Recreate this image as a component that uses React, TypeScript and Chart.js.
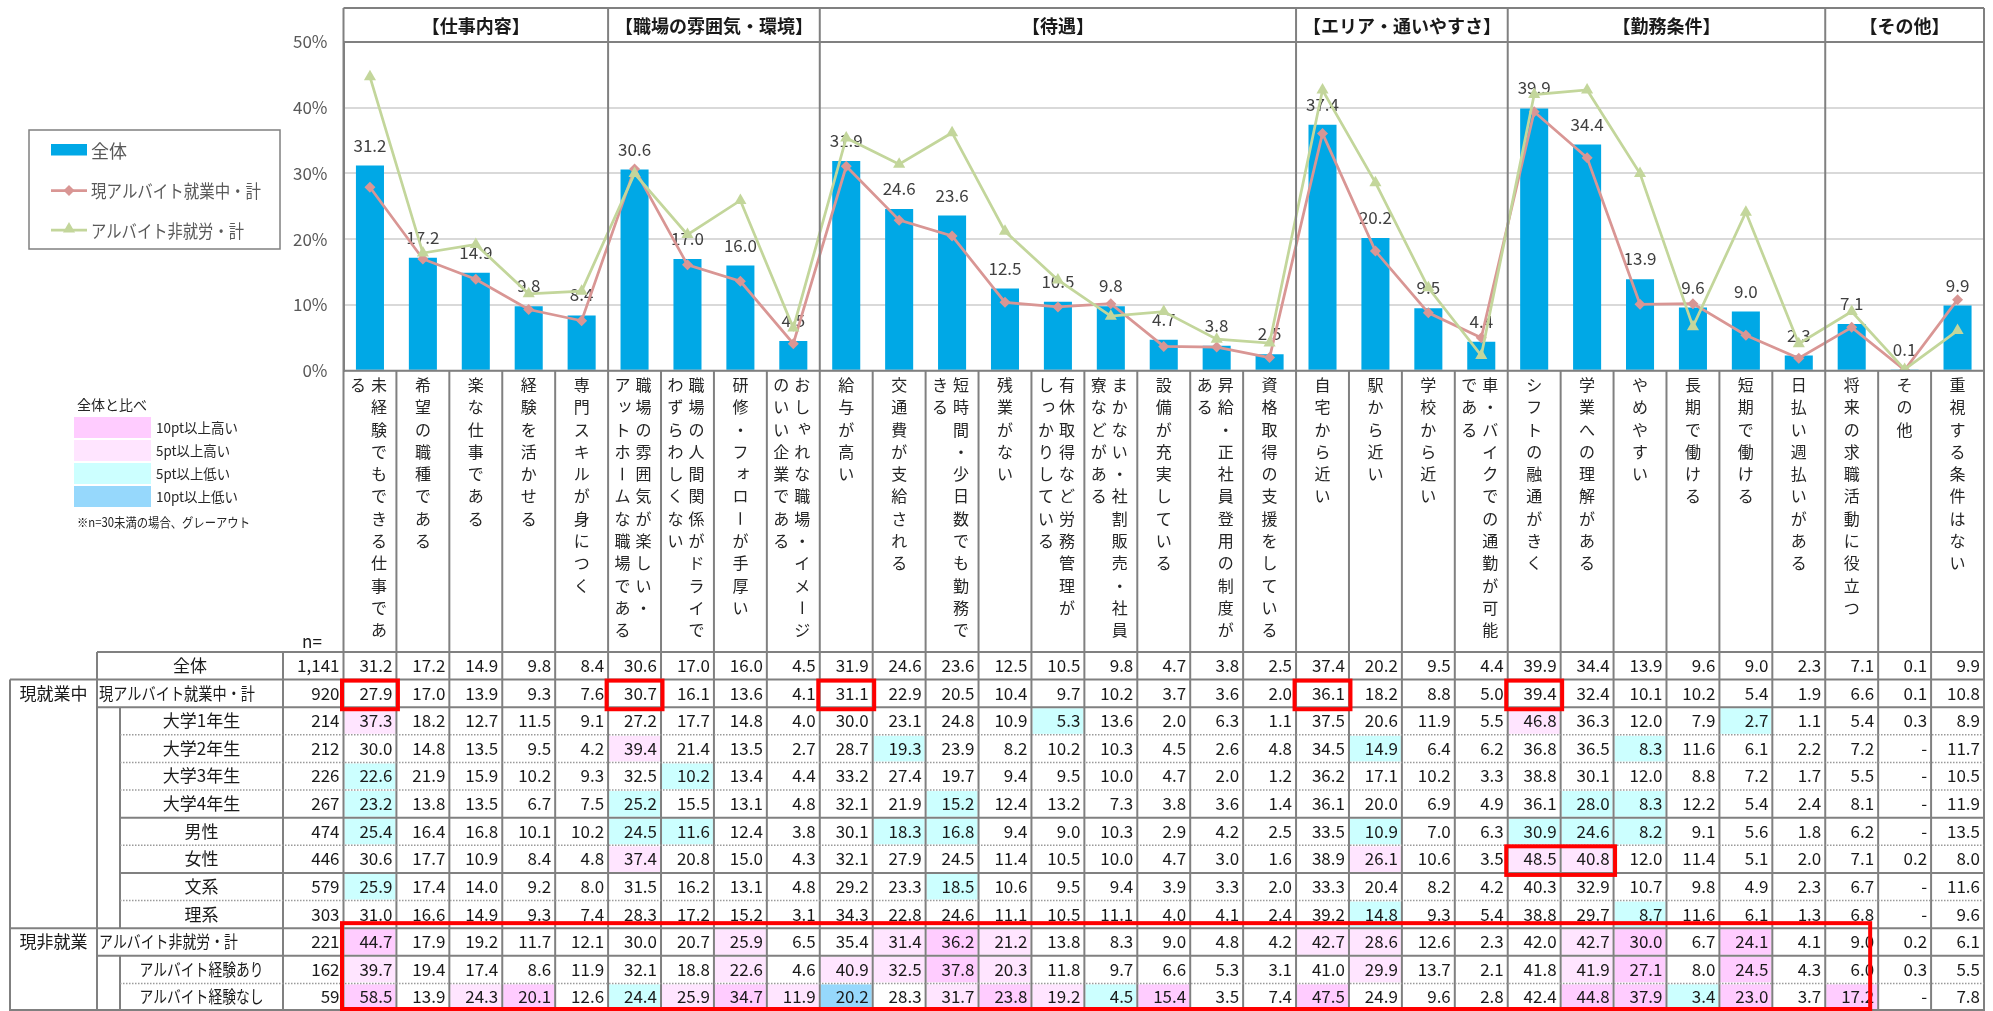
import React, { useEffect, useRef } from "react";
import { Chart, registerables } from "chart.js";
Chart.register(...registerables);

const FONT = '"Noto Sans CJK JP", "Noto Sans", sans-serif';

// ---- categories ----
const GROUPS = ["【仕事内容】", "【職場の雰囲気・環境】", "【待遇】", "【エリア・通いやすさ】", "【勤務条件】", "【その他】"];
const GROUP_SIZES = [5, 4, 9, 4, 6, 3];
// "|" separates vertical text columns (right column first)
const CATEGORIES = [
  "未経験でもできる仕事であ|る", "希望の職種である", "楽な仕事である", "経験を活かせる", "専門スキルが身につく",
  "職場の雰囲気が楽しい・|アットホームな職場である", "職場の人間関係がドライで|わずらわしくない", "研修・フォローが手厚い", "おしゃれな職場・イメージ|のいい企業である",
  "給与が高い", "交通費が支給される", "短時間・少日数でも勤務で|きる", "残業がない", "有休取得など労務管理が|しっかりしている",
  "まかない・社割販売・社員|寮などがある", "設備が充実している", "昇給・正社員登用の制度が|ある", "資格取得の支援をしている",
  "自宅から近い", "駅から近い", "学校から近い", "車・バイクでの通勤が可能|である",
  "シフトの融通がきく", "学業への理解がある", "やめやすい", "長期で働ける", "短期で働ける", "日払い週払いがある",
  "将来の求職活動に役立つ", "その他", "重視する条件はない",
];

// ---- rows (null = "-") ----
const ALL = [31.2, 17.2, 14.9, 9.8, 8.4, 30.6, 17.0, 16.0, 4.5, 31.9, 24.6, 23.6, 12.5, 10.5, 9.8, 4.7, 3.8, 2.5, 37.4, 20.2, 9.5, 4.4, 39.9, 34.4, 13.9, 9.6, 9.0, 2.3, 7.1, 0.1, 9.9];
const CUR_TOTAL = [27.9, 17.0, 13.9, 9.3, 7.6, 30.7, 16.1, 13.6, 4.1, 31.1, 22.9, 20.5, 10.4, 9.7, 10.2, 3.7, 3.6, 2.0, 36.1, 18.2, 8.8, 5.0, 39.4, 32.4, 10.1, 10.2, 5.4, 1.9, 6.6, 0.1, 10.8];
const UNIV1 = [37.3, 18.2, 12.7, 11.5, 9.1, 27.2, 17.7, 14.8, 4.0, 30.0, 23.1, 24.8, 10.9, 5.3, 13.6, 2.0, 6.3, 1.1, 37.5, 20.6, 11.9, 5.5, 46.8, 36.3, 12.0, 7.9, 2.7, 1.1, 5.4, 0.3, 8.9];
const UNIV2 = [30.0, 14.8, 13.5, 9.5, 4.2, 39.4, 21.4, 13.5, 2.7, 28.7, 19.3, 23.9, 8.2, 10.2, 10.3, 4.5, 2.6, 4.8, 34.5, 14.9, 6.4, 6.2, 36.8, 36.5, 8.3, 11.6, 6.1, 2.2, 7.2, null, 11.7];
const UNIV3 = [22.6, 21.9, 15.9, 10.2, 9.3, 32.5, 10.2, 13.4, 4.4, 33.2, 27.4, 19.7, 9.4, 9.5, 10.0, 4.7, 2.0, 1.2, 36.2, 17.1, 10.2, 3.3, 38.8, 30.1, 12.0, 8.8, 7.2, 1.7, 5.5, null, 10.5];
const UNIV4 = [23.2, 13.8, 13.5, 6.7, 7.5, 25.2, 15.5, 13.1, 4.8, 32.1, 21.9, 15.2, 12.4, 13.2, 7.3, 3.8, 3.6, 1.4, 36.1, 20.0, 6.9, 4.9, 36.1, 28.0, 8.3, 12.2, 5.4, 2.4, 8.1, null, 11.9];
const MALE = [25.4, 16.4, 16.8, 10.1, 10.2, 24.5, 11.6, 12.4, 3.8, 30.1, 18.3, 16.8, 9.4, 9.0, 10.3, 2.9, 4.2, 2.5, 33.5, 10.9, 7.0, 6.3, 30.9, 24.6, 8.2, 9.1, 5.6, 1.8, 6.2, null, 13.5];
const FEMALE = [30.6, 17.7, 10.9, 8.4, 4.8, 37.4, 20.8, 15.0, 4.3, 32.1, 27.9, 24.5, 11.4, 10.5, 10.0, 4.7, 3.0, 1.6, 38.9, 26.1, 10.6, 3.5, 48.5, 40.8, 12.0, 11.4, 5.1, 2.0, 7.1, 0.2, 8.0];
const HUMANITIES = [25.9, 17.4, 14.0, 9.2, 8.0, 31.5, 16.2, 13.1, 4.8, 29.2, 23.3, 18.5, 10.6, 9.5, 9.4, 3.9, 3.3, 2.0, 33.3, 20.4, 8.2, 4.2, 40.3, 32.9, 10.7, 9.8, 4.9, 2.3, 6.7, null, 11.6];
const SCIENCE = [31.0, 16.6, 14.9, 9.3, 7.4, 28.3, 17.2, 15.2, 3.1, 34.3, 22.8, 24.6, 11.1, 10.5, 11.1, 4.0, 4.1, 2.4, 39.2, 14.8, 9.3, 5.4, 38.8, 29.7, 8.7, 11.6, 6.1, 1.3, 6.8, null, 9.6];
const NON_TOTAL = [44.7, 17.9, 19.2, 11.7, 12.1, 30.0, 20.7, 25.9, 6.5, 35.4, 31.4, 36.2, 21.2, 13.8, 8.3, 9.0, 4.8, 4.2, 42.7, 28.6, 12.6, 2.3, 42.0, 42.7, 30.0, 6.7, 24.1, 4.1, 9.0, 0.2, 6.1];
const NON_EXP = [39.7, 19.4, 17.4, 8.6, 11.9, 32.1, 18.8, 22.6, 4.6, 40.9, 32.5, 37.8, 20.3, 11.8, 9.7, 6.6, 5.3, 3.1, 41.0, 29.9, 13.7, 2.1, 41.8, 41.9, 27.1, 8.0, 24.5, 4.3, 6.0, 0.3, 5.5];
const NON_NOEXP = [58.5, 13.9, 24.3, 20.1, 12.6, 24.4, 25.9, 34.7, 11.9, 20.2, 28.3, 31.7, 23.8, 19.2, 4.5, 15.4, 3.5, 7.4, 47.5, 24.9, 9.6, 2.8, 42.4, 44.8, 37.9, 3.4, 23.0, 3.7, 17.2, null, 7.8];

const ROW_LABELS = ["全体", "現アルバイト就業中・計", "大学1年生", "大学2年生", "大学3年生", "大学4年生", "男性", "女性", "文系", "理系", "アルバイト非就労・計", "アルバイト経験あり", "アルバイト経験なし"];
const ROW_N = ["1,141", "920", "214", "212", "226", "267", "474", "446", "579", "303", "221", "162", "59"];
const TABLE_ROWS = [ALL, CUR_TOTAL, UNIV1, UNIV2, UNIV3, UNIV4, MALE, FEMALE, HUMANITIES, SCIENCE, NON_TOTAL, NON_EXP, NON_NOEXP];
const SIDE_GROUPS = [{ label: "現就業中", row: 1 }, { label: "現非就業", row: 10 }];

const SERIES_NAMES = ["全体", "現アルバイト就業中・計", "アルバイト非就労・計"];
const Y_TICKS = [0, 10, 20, 30, 40, 50];

const COMPARE_LEGEND = ["10pt以上高い", "5pt以上高い", "5pt以上低い", "10pt以上低い"];
const COMPARE_COLORS = ["#FFCCFF", "#FFE5FF", "#CCFFFF", "#96D8FC"];
// red highlight boxes: row range, column range
const HIGHLIGHTS = [
  { r0: 1, r1: 1, c0: 0, c1: 0 }, { r0: 1, r1: 1, c0: 5, c1: 5 }, { r0: 1, r1: 1, c0: 9, c1: 9 },
  { r0: 1, r1: 1, c0: 18, c1: 18 }, { r0: 1, r1: 1, c0: 22, c1: 22 }, { r0: 7, r1: 7, c0: 22, c1: 23 },
  { r0: 10, r1: 12, c0: 0, c1: 28 },
];

const BAR_COLOR = "#00A8E6";
const PINK = "#D99694";
const GREEN = "#C3D69B";
const GRID_GRAY = "#808080";

const fmt = (v: number | null) => (v === null ? "-" : v.toFixed(1));

function cellColor(v: number | null, base: number): string | null {
  if (v === null) return null;
  const d = Math.round((v - base) * 10) / 10;
  if (d >= 10) return COMPARE_COLORS[0];
  if (d >= 5) return COMPARE_COLORS[1];
  if (d <= -10) return COMPARE_COLORS[3];
  if (d <= -5) return COMPARE_COLORS[2];
  return null;
}

const SMALL_KANA = "ッャュョァィゥェォっゃゅょぁぃぅぇぉ";

function vText(ctx: CanvasRenderingContext2D, s: string, x: number, y0: number, pitch: number) {
  for (let k = 0; k < s.length; k++) {
    const ch = s[k];
    const y = y0 + k * pitch;
    if (ch === "ー") {
      ctx.save();
      ctx.translate(x, y);
      ctx.rotate(Math.PI / 2);
      ctx.fillText(ch, 0, 0);
      ctx.restore();
    } else if (SMALL_KANA.includes(ch)) {
      ctx.fillText(ch, x + 2.5, y - 2.5);
    } else {
      ctx.fillText(ch, x, y);
    }
  }
}

function line(ctx: CanvasRenderingContext2D, x0: number, y0: number, x1: number, y1: number) {
  ctx.beginPath();
  ctx.moveTo(x0, y0);
  ctx.lineTo(x1, y1);
  ctx.stroke();
}

function diamond(ctx: CanvasRenderingContext2D, x: number, y: number, r: number) {
  ctx.beginPath();
  ctx.moveTo(x, y - r);
  ctx.lineTo(x + r, y);
  ctx.lineTo(x, y + r);
  ctx.lineTo(x - r, y);
  ctx.closePath();
  ctx.fill();
}
function triangle(ctx: CanvasRenderingContext2D, x: number, y: number, r: number) {
  ctx.beginPath();
  ctx.moveTo(x, y - r);
  ctx.lineTo(x + r * 0.866, y + r * 0.5);
  ctx.lineTo(x - r * 0.866, y + r * 0.5);
  ctx.closePath();
  ctx.fill();
}

const TABLE_TOP = 652;
const TABLE_BOTTOM = 1011;
const ROW_H = (TABLE_BOTTOM - TABLE_TOP) / 13;
const X_OUTER = 10;
const X_LABEL = 97;
const X_SUB = 120;
const X_N = 283;
const HEADER_TOP = 8;

const customPlugin = {
  id: "custom",
  afterDatasetDraw(chart: any, args: any) {
    if (args.index !== 0) return;
    const ctx: CanvasRenderingContext2D = chart.ctx;
    const meta = chart.getDatasetMeta(0);
    ctx.save();
    ctx.font = `17px ${FONT}`;
    ctx.fillStyle = "#404040";
    ctx.textAlign = "center";
    ctx.textBaseline = "alphabetic";
    meta.data.forEach((bar: any, i: number) => {
      ctx.fillText(fmt(ALL[i]), bar.x, bar.y - 14);
    });
    ctx.restore();
  },
  afterDraw(chart: any) {
    const ctx: CanvasRenderingContext2D = chart.ctx;
    const ca = chart.chartArea;
    const L = ca.left, R = ca.right, T = ca.top, B = ca.bottom;
    const N = CATEGORIES.length;
    const cw = (R - L) / N;
    const xs = chart.scales.x;
    const colL = (i: number) => L + i * cw;
    const rowT = (r: number) => TABLE_TOP + r * ROW_H;

    ctx.save();
    // ---- header ----
    ctx.font = `bold 18px ${FONT}`;
    ctx.fillStyle = "#1a1a1a";
    ctx.textAlign = "center";
    ctx.textBaseline = "middle";
    const bounds: number[] = [0];
    let s = 0;
    GROUPS.forEach((g, gi) => {
      const n = GROUP_SIZES[gi];
      ctx.fillText(g, (colL(s) + colL(s + n)) / 2, (HEADER_TOP + T) / 2 + 1);
      s += n;
      bounds.push(s);
    });

    // ---- category labels ----
    ctx.font = `16px ${FONT}`;
    ctx.fillStyle = "#262626";
    ctx.textAlign = "center";
    ctx.textBaseline = "middle";
    CATEGORIES.forEach((c, i) => {
      const cx = xs.getPixelForValue(i);
      const parts = c.split("|");
      if (parts.length === 1) vText(ctx, parts[0], cx, 385, 22.27);
      else {
        vText(ctx, parts[0], cx + 9, 385, 22.27);
        vText(ctx, parts[1], cx - 12, 385, 22.27);
      }
    });

    // ---- table cell fills ----
    TABLE_ROWS.forEach((row, r) => {
      if (r === 0) return;
      row.forEach((v, i) => {
        const col = cellColor(v, ALL[i]);
        if (col) {
          ctx.fillStyle = col;
          ctx.fillRect(colL(i) + 1, rowT(r) + 1, cw - 2, ROW_H - 2);
        }
      });
    });

    // ---- table text ----
    ctx.font = `17px ${FONT}`;
    ctx.fillStyle = "#1a1a1a";
    ctx.textBaseline = "alphabetic";
    TABLE_ROWS.forEach((row, r) => {
      const yb = rowT(r) + ROW_H / 2 + 6.2;
      ctx.textAlign = "right";
      row.forEach((v, i) => {
        ctx.fillText(fmt(v), colL(i + 1) - 4, yb);
      });
      ctx.fillText(ROW_N[r], L - 4, yb);
      const lab = ROW_LABELS[r];
      if (r === 1 || r === 10) {
        ctx.textAlign = "left";
        ctx.fillText(lab, X_LABEL + 2, yb, r === 1 ? 156 : 139);
      } else if (r === 0) {
        ctx.textAlign = "center";
        ctx.fillText(lab, (X_LABEL + X_N) / 2, yb);
      } else {
        ctx.textAlign = "center";
        ctx.fillText(lab, (X_SUB + X_N) / 2, yb, r >= 11 ? 124 : 150);
      }
    });
    ctx.textAlign = "center";
    SIDE_GROUPS.forEach((g) => {
      ctx.fillText(g.label, (X_OUTER + X_LABEL) / 2, rowT(g.row) + ROW_H / 2 + 6.2);
    });
    ctx.fillText("n=", 312, 648);

    // ---- lines ----
    ctx.strokeStyle = GRID_GRAY;
    ctx.lineWidth = 2;
    // header
    line(ctx, L, HEADER_TOP, R, HEADER_TOP);
    line(ctx, L, T, R, T);
    line(ctx, L, B, R, B);
    // verticals
    for (let k = 0; k <= N; k++) {
      const x = colL(k);
      const isGroup = bounds.includes(k);
      line(ctx, x, isGroup ? HEADER_TOP : B, x, TABLE_BOTTOM);
    }
    line(ctx, X_N, rowT(0), X_N, TABLE_BOTTOM);
    line(ctx, X_LABEL, rowT(0), X_LABEL, TABLE_BOTTOM);
    line(ctx, X_OUTER, rowT(1), X_OUTER, TABLE_BOTTOM);
    line(ctx, X_SUB, rowT(2), X_SUB, rowT(10));
    line(ctx, X_SUB, rowT(11), X_SUB, TABLE_BOTTOM);
    // horizontals
    const hspec: [number, number, boolean][] = [
      [0, X_LABEL, false], [1, X_OUTER, false], [2, X_LABEL, false], [3, X_SUB, true], [4, X_SUB, true],
      [5, X_SUB, true], [6, X_SUB, false], [7, X_SUB, true], [8, X_SUB, false], [9, X_SUB, true],
      [10, X_OUTER, false], [11, X_LABEL, false], [12, X_SUB, true], [13, X_OUTER, false],
    ];
    hspec.forEach(([r, x0, dotted]) => {
      const y = Math.min(rowT(r), TABLE_BOTTOM - 1);
      if (dotted) {
        ctx.save();
        ctx.strokeStyle = "#9a9a9a";
        ctx.lineWidth = 1.5;
        ctx.setLineDash([1.5, 1.5]);
        line(ctx, x0, y, R, y);
        ctx.restore();
      } else {
        line(ctx, x0, y, R, y);
      }
    });

    // ---- red highlight boxes ----
    ctx.strokeStyle = "#FF0000";
    ctx.lineWidth = 4;
    HIGHLIGHTS.forEach((h) => {
      const x0 = colL(h.c0) - 1.5;
      let x1 = colL(h.c1 + 1) + 1.5;
      let y0 = rowT(h.r0) + 1;
      let y1 = rowT(h.r1 + 1) + 2;
      if (h.r1 === 12) {
        x1 = colL(h.c1 + 1) - 8;
        y0 = rowT(h.r0) - 5;
        y1 = TABLE_BOTTOM - 2;
      }
      ctx.strokeRect(x0, y0, x1 - x0, y1 - y0);
    });

    // ---- series legend ----
    ctx.strokeStyle = GRID_GRAY;
    ctx.lineWidth = 1.5;
    ctx.strokeRect(29, 130, 251, 119);
    ctx.font = `18px ${FONT}`;
    ctx.fillStyle = "#595959";
    ctx.textAlign = "left";
    ctx.textBaseline = "middle";
    const ly = [150, 190.5, 230];
    ctx.fillStyle = BAR_COLOR;
    ctx.fillRect(51, 144, 36, 11.5);
    ctx.strokeStyle = PINK;
    ctx.lineWidth = 2.75;
    line(ctx, 51, ly[1], 87, ly[1]);
    ctx.fillStyle = PINK;
    diamond(ctx, 69, ly[1], 5.5);
    ctx.strokeStyle = GREEN;
    line(ctx, 51, ly[2], 87, ly[2]);
    ctx.fillStyle = GREEN;
    triangle(ctx, 69, ly[2] - 1, 7);
    ctx.fillStyle = "#595959";
    ctx.fillText(SERIES_NAMES[0], 91, ly[0] + 1);
    ctx.fillText(SERIES_NAMES[1], 91, ly[1] + 1, 170);
    ctx.fillText(SERIES_NAMES[2], 91, ly[2] + 1, 153);

    // ---- comparison legend ----
    ctx.font = `14px ${FONT}`;
    ctx.fillStyle = "#262626";
    ctx.fillText("全体と比べ", 77, 405, 75);
    COMPARE_LEGEND.forEach((t, k) => {
      const y = 417 + k * 23;
      ctx.fillStyle = COMPARE_COLORS[k];
      ctx.fillRect(74, y, 77, 21);
      ctx.fillStyle = "#262626";
      ctx.fillText(t, 156, y + 11, k === 1 || k === 2 ? 74 : 82);
    });
    ctx.font = `13px ${FONT}`;
    ctx.fillText("※n=30未満の場合、グレーアウト", 77, 522, 173);

    ctx.restore();
  },
};

export default function App() {
  const ref = useRef<HTMLCanvasElement>(null);
  useEffect(() => {
    document.body.style.margin = "0";
    const chart = new Chart(ref.current as HTMLCanvasElement, {
      type: "bar",
      data: {
        labels: CATEGORIES.map((c) => c.replace("|", "")),
        datasets: [
          {
            type: "bar",
            label: SERIES_NAMES[0],
            data: ALL,
            backgroundColor: BAR_COLOR,
            barPercentage: 0.53,
            categoryPercentage: 1,
            order: 3,
          },
          {
            type: "line",
            label: SERIES_NAMES[1],
            data: CUR_TOTAL,
            borderColor: PINK,
            backgroundColor: PINK,
            borderWidth: 2.75,
            pointStyle: "rectRot",
            pointRadius: 5.5,
            pointBorderWidth: 0,
            tension: 0,
            order: 2,
          },
          {
            type: "line",
            label: SERIES_NAMES[2],
            data: NON_TOTAL,
            borderColor: GREEN,
            backgroundColor: GREEN,
            borderWidth: 2.75,
            pointStyle: "triangle",
            pointRadius: 7,
            pointBorderWidth: 0,
            tension: 0,
            order: 1,
          },
        ] as any,
      },
      options: {
        animation: false,
        responsive: false,
        devicePixelRatio: 1,
        layout: { padding: { left: 0, top: 42, right: 9, bottom: 1011 - 370.7 } },
        plugins: { legend: { display: false }, tooltip: { enabled: false } },
        scales: {
          x: { display: false, offset: true },
          y: {
            min: 0,
            max: 50,
            afterFit: (s: any) => {
              s.width = 343.5;
            },
            afterBuildTicks: (s: any) => {
              s.ticks = Y_TICKS.map((v) => ({ value: v }));
            },
            border: { display: true, color: GRID_GRAY, width: 2 },
            grid: { color: "#D9D9D9", lineWidth: 2, drawTicks: false },
            ticks: {
              padding: 16,
              color: "#595959",
              font: { size: 17, family: FONT },
              callback: (v: any) => v + "%",
            },
          },
        } as any,
      },
      plugins: [customPlugin],
    });
    return () => chart.destroy();
  }, []);
  return (
    <div style={{ width: 1993, height: 1011, position: "relative" }}>
      <canvas ref={ref} width={1993} height={1011} style={{ display: "block" }} />
    </div>
  );
}
